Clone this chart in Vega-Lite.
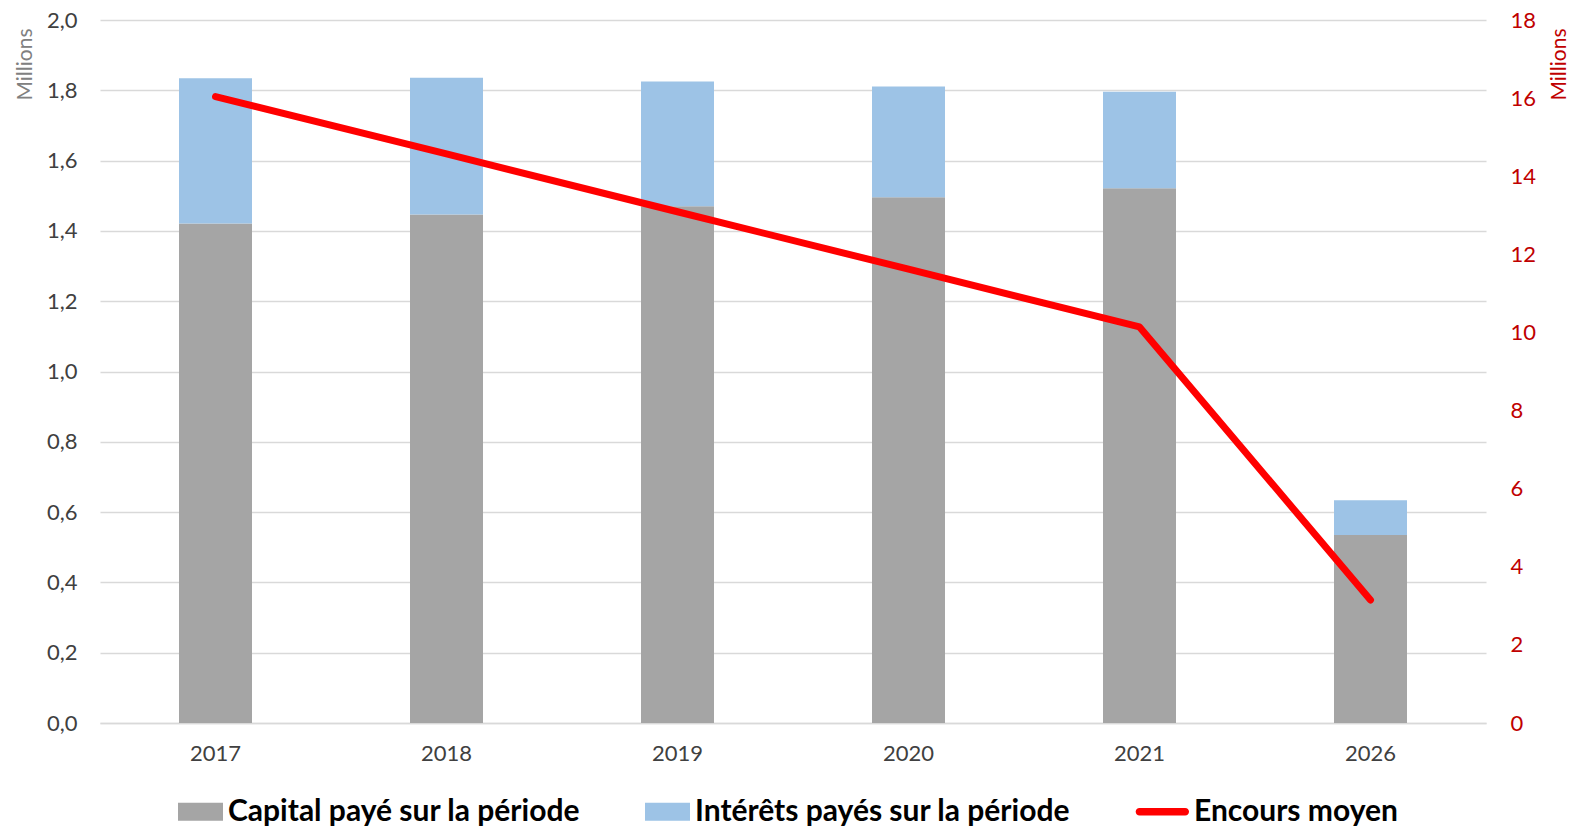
{
  "$schema": "https://vega.github.io/schema/vega-lite/v6.json",
  "width": 1386,
  "height": 703,
  "autosize": "none",
  "padding": {"left": 100, "top": 20, "right": 92, "bottom": 107},
  "background": "white",
  "config": {
    "font": "Lato",
    "view": {"stroke": null},
    "legend": {
      "direction": "horizontal",
      "title": null,
      "labelFontSize": 30,
      "labelFontWeight": "bold",
      "labelColor": "#000000",
      "labelLimit": 600,
      "symbolSize": 2025,
      "labelOffset": 5,
      "columnPadding": 64
    }
  },
  "datasets": {
    "barres": [
      {"annee": "2017", "serie": "Capital payé sur la période", "valeur": 1.421},
      {"annee": "2017", "serie": "Intérêts payés sur la période", "valeur": 0.413},
      {"annee": "2018", "serie": "Capital payé sur la période", "valeur": 1.447},
      {"annee": "2018", "serie": "Intérêts payés sur la période", "valeur": 0.389},
      {"annee": "2019", "serie": "Capital payé sur la période", "valeur": 1.470},
      {"annee": "2019", "serie": "Intérêts payés sur la période", "valeur": 0.355},
      {"annee": "2020", "serie": "Capital payé sur la période", "valeur": 1.496},
      {"annee": "2020", "serie": "Intérêts payés sur la période", "valeur": 0.315},
      {"annee": "2021", "serie": "Capital payé sur la période", "valeur": 1.521},
      {"annee": "2021", "serie": "Intérêts payés sur la période", "valeur": 0.275},
      {"annee": "2026", "serie": "Capital payé sur la période", "valeur": 0.535},
      {"annee": "2026", "serie": "Intérêts payés sur la période", "valeur": 0.099}
    ],
    "ligne": [
      {"annee": "2017", "serie": "Encours moyen", "encours": 16.04},
      {"annee": "2018", "serie": "Encours moyen", "encours": 14.57},
      {"annee": "2019", "serie": "Encours moyen", "encours": 13.09},
      {"annee": "2020", "serie": "Encours moyen", "encours": 11.62},
      {"annee": "2021", "serie": "Encours moyen", "encours": 10.14},
      {"annee": "2026", "serie": "Encours moyen", "encours": 3.15}
    ]
  },
  "encoding": {
    "x": {
      "field": "annee",
      "type": "ordinal",
      "scale": {"paddingInner": 0.684, "paddingOuter": 0.342},
      "axis": {
        "title": null,
        "labelAngle": 0,
        "labelFontSize": 22,
        "labelColor": "#404040",
        "labelPadding": 20,
        "ticks": false,
        "domainColor": "#D9D9D9",
        "domainWidth": 1.5,
        "grid": false
      }
    },
    "color": {
      "field": "serie",
      "type": "nominal",
      "scale": {
        "domain": ["Capital payé sur la période", "Intérêts payés sur la période", "Encours moyen"],
        "range": ["#A5A5A5", "#9DC3E6", "#FF0000"]
      },
      "legend": {
        "orient": "none",
        "legendX": 78,
        "legendY": 769,
        "symbolStrokeWidth": 0,
        "encode": {
          "symbols": {
            "update": {
              "shape": {"signal": "datum.value === 'Encours moyen' ? 'M-1.2,-0.17H0.83A0.17,0.17 0 0 1 0.83,0.17H-1.2A0.17,0.17 0 0 1 -1.2,-0.17Z' : 'M-1,-0.4H1V0.4H-1Z'"},
              "fill": {"signal": "scale('color', datum.value)"},
              "stroke": {"value": "transparent"},
              "opacity": {"value": 1}
            }
          }
        }
      }
    }
  },
  "layer": [
    {
      "data": {"name": "barres"},
      "mark": {"type": "bar"},
      "encoding": {
        "order": {"field": "serie", "sort": "ascending"},
        "y": {
          "field": "valeur",
          "type": "quantitative",
          "stack": "zero",
          "scale": {"domain": [0, 2], "nice": false},
          "axis": {
            "values": [0, 0.2, 0.4, 0.6, 0.8, 1.0, 1.2, 1.4, 1.6, 1.8, 2.0],
            "format": ".1f",
            "labelExpr": "replace(datum.label, '.', ',')",
            "labelFontSize": 22,
            "labelColor": "#404040",
            "labelPadding": 23,
            "ticks": false,
            "domain": false,
            "grid": true,
            "gridColor": "#D9D9D9",
            "gridWidth": 1.5,
            "title": "Millions",
            "titleFontSize": 21,
            "titleFontWeight": "normal",
            "titleColor": "#808080",
            "titleAngle": -90,
            "titleAlign": "right",
            "titleBaseline": "middle",
            "titleX": -75,
            "titleY": 8
          }
        }
      }
    },
    {
      "data": {"name": "ligne"},
      "mark": {"type": "line", "strokeWidth": 7, "strokeCap": "round", "strokeJoin": "round"},
      "encoding": {
        "y": {
          "field": "encours",
          "type": "quantitative",
          "scale": {"domain": [0, 18], "nice": false},
          "axis": {
            "orient": "right",
            "values": [0, 2, 4, 6, 8, 10, 12, 14, 16, 18],
            "format": "d",
            "labelFontSize": 22,
            "labelColor": "#C00000",
            "labelPadding": 24,
            "ticks": false,
            "domain": false,
            "grid": false,
            "title": "Millions",
            "titleFontSize": 21,
            "titleFontWeight": "normal",
            "titleColor": "#C00000",
            "titleAngle": -90,
            "titleAlign": "right",
            "titleBaseline": "middle",
            "titleX": 73,
            "titleY": 8
          }
        }
      }
    }
  ],
  "resolve": {"scale": {"y": "independent"}}
}
